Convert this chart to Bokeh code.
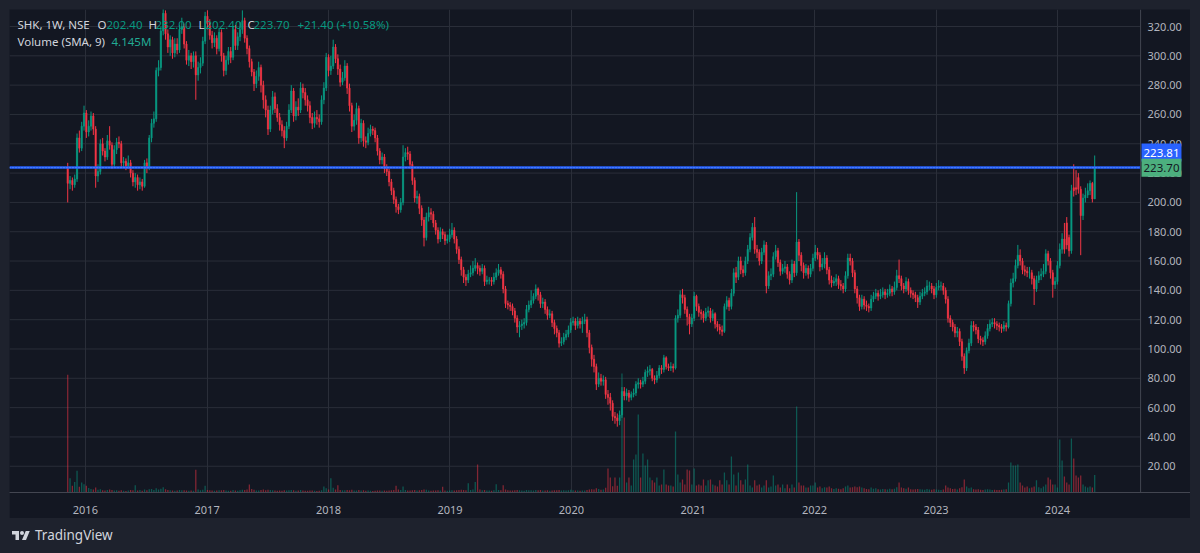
import pandas as pd
from datetime import datetime
from bokeh.plotting import figure
from bokeh.models import (Range1d, FixedTicker, DatetimeTickFormatter, Span, Label,
                          ColumnDataSource, Div, Spacer)
from bokeh.layouts import column, row
from bokeh.embed import file_html
from bokeh.resources import INLINE

# ---------------- data (weekly candles) ----------------
symbol = "SHK, 1W, NSE"
first_week = "2015-11-09"

opens = [
    224, 213, 215, 212, 216, 244, 237, 252, 261, 248,
    252, 259, 250, 218, 221, 240, 235, 231, 242, 239,
    226, 236, 241, 240, 227, 228, 225, 227, 220, 214,
    217, 212, 214, 211, 227, 224, 244, 254, 257, 290,
    292, 317, 329, 315, 306, 311, 302, 308, 304, 318,
    320, 308, 297, 300, 296, 300, 287, 292, 295, 310,
    327, 322, 314, 309, 312, 305, 316, 300, 290, 297,
    303, 299, 318, 307, 313, 318, 324, 312, 305, 296,
    289, 281, 286, 292, 280, 270, 263, 250, 263, 272,
    264, 258, 253, 249, 244, 252, 263, 276, 259, 265,
    263, 278, 275, 270, 266, 258, 254, 258, 257, 255,
    270, 278, 299, 290, 293, 306, 298, 291, 282, 285,
    293, 278, 266, 252, 256, 264, 244, 254, 242, 241,
    247, 250, 249, 244, 235, 229, 231, 223, 221, 214,
    208, 202, 197, 195, 200, 231, 234, 233, 226, 215,
    203, 204, 196, 188, 176, 190, 193, 192, 186, 181,
    175, 180, 178, 174, 175, 178, 181, 175, 168, 161,
    154, 149, 147, 151, 152, 155, 157, 155, 153, 155,
    146, 147, 147, 146, 149, 152, 154, 151, 141, 131,
    130, 129, 126, 121, 115, 116, 117, 118, 127, 130,
    133, 136, 141, 137, 131, 132, 127, 123, 124, 118,
    114, 111, 104, 105, 108, 110, 113, 118, 119, 116,
    119, 117, 119, 120, 111, 101, 93, 88, 76, 80,
    78, 79, 69, 67, 63, 54, 53, 51, 55, 71,
    68, 70, 67, 69, 70, 76, 77, 76, 78, 84,
    85, 86, 80, 79, 82, 87, 86, 94, 88, 87,
    88, 87, 121, 123, 137, 135, 127, 122, 117, 121,
    136, 129, 125, 124, 121, 125, 126, 121, 124, 117,
    115, 113, 112, 129, 133, 129, 138, 152, 149, 160,
    154, 152, 160, 168, 176, 183, 168, 166, 160, 166,
    171, 143, 150, 151, 163, 167, 159, 153, 155, 156,
    151, 147, 158, 152, 173, 164, 157, 152, 155, 151,
    155, 162, 166, 164, 156, 158, 162, 154, 147, 145,
    146, 148, 144, 143, 141, 150, 162, 160, 152, 141,
    135, 129, 134, 130, 129, 128, 134, 136, 138, 136,
    137, 139, 137, 138, 141, 139, 142, 150, 148, 143,
    141, 146, 140, 138, 137, 135, 132, 136, 138, 139,
    143, 143, 141, 137, 142, 143, 143, 140, 134, 121,
    118, 115, 111, 112, 105, 95, 87, 99, 104, 116,
    115, 113, 107, 106, 105, 109, 114, 117, 118, 117,
    116, 115, 114, 116, 115, 131, 145, 148, 157, 164,
    160, 154, 153, 152, 152, 148, 141, 147, 150, 151,
    153, 165, 160, 152, 144, 146, 157, 168, 175, 186,
    176, 167, 210, 210, 217, 209, 191, 203, 205, 208,
    213, 202.4,
]

highs = [
    227, 218, 217, 219, 247, 249, 255, 266, 263, 256,
    262, 261, 252, 226, 243, 244, 237, 246, 252, 241,
    239, 244, 245, 242, 231, 230, 232, 229, 222, 220,
    219, 217, 216, 229, 230, 246, 257, 262, 292, 297,
    320, 333, 331, 318, 314, 313, 312, 312, 321, 326,
    322, 310, 304, 302, 303, 303, 296, 299, 313, 330,
    331, 325, 317, 316, 314, 319, 318, 302, 300, 306,
    306, 320, 321, 316, 323, 331, 326, 314, 307, 298,
    291, 290, 296, 294, 283, 273, 266, 266, 276, 275,
    267, 261, 256, 252, 255, 267, 280, 278, 269, 271,
    282, 281, 278, 273, 269, 261, 262, 263, 260, 273,
    282, 302, 301, 300, 311, 308, 301, 294, 289, 297,
    295, 281, 268, 260, 268, 266, 257, 256, 245, 251,
    253, 252, 251, 246, 237, 234, 233, 226, 223, 216,
    210, 204, 199, 203, 239, 237, 238, 235, 228, 217,
    208, 206, 198, 190, 193, 197, 196, 194, 188, 183,
    183, 182, 180, 178, 182, 186, 183, 177, 170, 163,
    156, 151, 154, 157, 160, 162, 159, 157, 158, 157,
    150, 149, 149, 152, 155, 158, 156, 153, 143, 133,
    132, 131, 128, 123, 119, 120, 121, 130, 133, 140,
    138, 144, 142, 139, 135, 134, 129, 127, 126, 120,
    116, 113, 108, 111, 113, 116, 121, 122, 121, 122,
    121, 122, 124, 122, 113, 103, 96, 90, 84, 83,
    82, 81, 72, 70, 65, 57, 56, 58, 74, 74,
    73, 72, 71, 73, 78, 80, 79, 81, 86, 88,
    89, 87, 82, 85, 89, 89, 96, 95, 90, 91,
    90, 123, 127, 140, 141, 137, 129, 124, 124, 139,
    137, 131, 127, 126, 128, 129, 128, 127, 125, 119,
    117, 116, 131, 136, 135, 141, 155, 156, 163, 163,
    157, 163, 171, 179, 186, 190, 171, 168, 169, 174,
    173, 153, 155, 166, 171, 169, 161, 158, 160, 158,
    153, 161, 160, 207, 175, 166, 159, 158, 157, 158,
    165, 171, 169, 166, 162, 166, 164, 156, 150, 149,
    151, 150, 147, 145, 153, 165, 165, 162, 154, 143,
    137, 137, 136, 133, 131, 137, 139, 141, 140, 141,
    142, 141, 141, 144, 143, 146, 154, 161, 150, 145,
    149, 148, 142, 140, 139, 137, 139, 141, 142, 147,
    146, 145, 143, 145, 147, 146, 145, 142, 136, 123,
    120, 117, 115, 114, 107, 97, 101, 107, 119, 119,
    117, 115, 109, 108, 112, 117, 120, 121, 121, 119,
    118, 117, 119, 118, 133, 148, 152, 161, 171, 168,
    162, 157, 156, 156, 154, 150, 150, 153, 155, 158,
    168, 167, 162, 154, 149, 160, 172, 179, 186, 190,
    178, 212, 226, 222, 220, 211, 206, 210, 213, 215,
    214, 232.0,
]

lows = [
    200, 209, 208, 210, 214, 234, 235, 249, 244, 245,
    249, 246, 210, 214, 219, 232, 228, 229, 236, 223,
    224, 233, 237, 224, 224, 222, 223, 217, 211, 210,
    208, 209, 208, 210, 220, 222, 241, 251, 255, 286,
    290, 314, 311, 302, 300, 298, 299, 301, 302, 315,
    305, 294, 293, 291, 292, 270, 283, 288, 293, 308,
    318, 311, 305, 306, 301, 303, 296, 286, 287, 294,
    295, 297, 304, 304, 310, 315, 309, 301, 292, 286,
    276, 278, 283, 275, 264, 258, 246, 248, 260, 261,
    255, 249, 245, 237, 242, 250, 261, 255, 256, 259,
    261, 271, 266, 262, 254, 250, 251, 253, 251, 253,
    267, 276, 286, 287, 291, 295, 287, 279, 280, 283,
    274, 262, 248, 249, 253, 240, 241, 238, 237, 239,
    245, 246, 241, 232, 226, 226, 220, 218, 211, 205,
    199, 193, 192, 193, 198, 228, 229, 223, 212, 200,
    199, 192, 184, 170, 174, 187, 188, 183, 178, 172,
    173, 175, 171, 172, 173, 176, 172, 165, 158, 150,
    145, 143, 145, 149, 150, 153, 151, 150, 151, 143,
    144, 144, 143, 144, 147, 150, 148, 138, 128, 127,
    126, 123, 118, 111, 108, 113, 114, 116, 125, 128,
    131, 134, 133, 128, 128, 124, 120, 121, 115, 110,
    108, 101, 102, 103, 106, 108, 111, 116, 113, 114,
    114, 111, 117, 108, 97, 88, 84, 72, 74, 75,
    75, 66, 62, 58, 51, 49, 47, 48, 53, 65,
    65, 64, 65, 67, 68, 73, 73, 74, 76, 81,
    82, 78, 76, 77, 80, 83, 84, 86, 85, 85,
    84, 86, 118, 121, 131, 124, 116, 110, 115, 119,
    126, 122, 120, 118, 119, 122, 118, 119, 114, 112,
    110, 109, 111, 127, 126, 127, 136, 145, 147, 151,
    149, 150, 158, 166, 174, 165, 162, 157, 158, 164,
    138, 141, 147, 149, 161, 156, 150, 151, 152, 148,
    144, 145, 149, 150, 160, 153, 148, 150, 148, 149,
    153, 160, 161, 153, 154, 155, 151, 144, 142, 143,
    143, 141, 140, 138, 139, 148, 157, 149, 138, 131,
    126, 127, 127, 126, 125, 126, 132, 134, 133, 134,
    135, 134, 135, 136, 136, 137, 140, 145, 140, 138,
    139, 137, 135, 134, 132, 128, 130, 134, 136, 137,
    140, 138, 134, 135, 140, 140, 137, 131, 118, 115,
    112, 108, 108, 102, 92, 83, 85, 97, 102, 112,
    110, 104, 103, 102, 103, 107, 112, 115, 114, 113,
    112, 111, 112, 112, 114, 129, 142, 146, 155, 157,
    151, 150, 149, 148, 144, 130, 139, 145, 147, 149,
    151, 157, 148, 135, 141, 144, 155, 165, 165, 168,
    163, 165, 204, 205, 206, 164, 188, 200, 203, 205,
    200, 202.4,
]

closes = [
    213, 215, 212, 216, 244, 237, 252, 261, 248, 252,
    259, 250, 218, 221, 240, 235, 231, 242, 239, 226,
    236, 241, 240, 227, 228, 225, 227, 220, 214, 217,
    212, 214, 211, 227, 224, 244, 254, 257, 290, 292,
    317, 329, 315, 306, 311, 302, 308, 304, 318, 320,
    308, 297, 300, 296, 300, 287, 292, 295, 310, 327,
    322, 314, 309, 312, 305, 316, 300, 290, 297, 303,
    299, 318, 307, 313, 318, 324, 312, 305, 296, 289,
    281, 286, 292, 280, 270, 263, 250, 263, 272, 264,
    258, 253, 249, 244, 252, 263, 276, 259, 265, 263,
    278, 275, 270, 266, 258, 254, 258, 257, 255, 270,
    278, 299, 290, 293, 306, 298, 291, 282, 285, 293,
    278, 266, 252, 256, 264, 244, 254, 242, 241, 247,
    250, 249, 244, 235, 229, 231, 223, 221, 214, 208,
    202, 197, 195, 200, 231, 234, 233, 226, 215, 203,
    204, 196, 188, 176, 190, 193, 192, 186, 181, 175,
    180, 178, 174, 175, 178, 181, 175, 168, 161, 154,
    149, 147, 151, 152, 155, 157, 155, 153, 155, 146,
    147, 147, 146, 149, 152, 154, 151, 141, 131, 130,
    129, 126, 121, 115, 116, 117, 118, 127, 130, 133,
    136, 141, 137, 131, 132, 127, 123, 124, 118, 114,
    111, 104, 105, 108, 110, 113, 118, 119, 116, 119,
    117, 119, 120, 111, 101, 93, 88, 76, 80, 78,
    79, 69, 67, 63, 54, 53, 51, 55, 71, 68,
    70, 67, 69, 70, 76, 77, 76, 78, 84, 85,
    86, 80, 79, 82, 87, 86, 94, 88, 87, 88,
    87, 121, 123, 137, 135, 127, 122, 117, 121, 136,
    129, 125, 124, 121, 125, 126, 121, 124, 117, 115,
    113, 112, 129, 133, 129, 138, 152, 149, 160, 154,
    152, 160, 168, 176, 183, 168, 166, 160, 166, 171,
    143, 150, 151, 163, 167, 159, 153, 155, 156, 151,
    147, 158, 152, 173, 164, 157, 152, 155, 151, 155,
    162, 166, 164, 156, 158, 162, 154, 147, 145, 146,
    148, 144, 143, 141, 150, 162, 160, 152, 141, 135,
    129, 134, 130, 129, 128, 134, 136, 138, 136, 137,
    139, 137, 138, 141, 139, 142, 150, 148, 143, 141,
    146, 140, 138, 137, 135, 132, 136, 138, 139, 143,
    143, 141, 137, 142, 143, 143, 140, 134, 121, 118,
    115, 111, 112, 105, 95, 87, 99, 104, 116, 115,
    113, 107, 106, 105, 109, 114, 117, 118, 117, 116,
    115, 114, 116, 115, 131, 145, 148, 157, 164, 160,
    154, 153, 152, 152, 148, 141, 147, 150, 151, 153,
    165, 160, 152, 144, 146, 157, 168, 175, 168, 171,
    167, 208, 208, 209, 209, 191, 203, 205, 208, 213,
    202.3, 223.7,
]

volumes_m = [
    45.6, 5.5, 2.6, 4.1, 8.4, 2.2, 3.9, 3.2, 2.6, 1.7,
    1.4, 1.2, 1.9, 1.1, 1.3, 0.9, 0.8, 1.0, 1.2, 1.0,
    0.8, 0.9, 0.7, 0.9, 0.7, 0.6, 0.8, 1.0, 0.9, 2.8,
    0.8, 1.0, 0.7, 1.2, 0.9, 1.3, 1.4, 1.0, 1.6, 1.2,
    1.5, 2.0, 1.3, 1.0, 0.9, 0.8, 0.7, 0.8, 1.0, 0.9,
    0.9, 0.8, 0.7, 0.8, 0.7, 8.8, 1.2, 0.9, 1.1, 2.6,
    1.0, 0.9, 0.8, 0.7, 0.8, 0.9, 0.9, 1.0, 0.8, 0.7,
    0.7, 1.0, 0.8, 0.7, 0.9, 1.1, 1.0, 1.2, 3.1, 1.4,
    1.1, 0.8, 0.8, 1.0, 1.2, 0.9, 1.1, 1.0, 0.9, 0.8,
    0.7, 0.8, 0.7, 0.9, 0.8, 0.9, 1.0, 0.9, 0.7, 0.8,
    1.0, 0.8, 0.7, 0.7, 0.8, 0.8, 0.7, 0.6, 0.7, 0.9,
    2.3, 1.6, 1.2, 5.5, 1.8, 1.2, 2.8, 1.0, 0.9, 0.9,
    1.0, 0.9, 1.1, 0.8, 0.8, 1.0, 0.8, 0.9, 0.7, 0.8,
    0.7, 0.6, 0.7, 0.8, 0.8, 0.7, 0.8, 0.7, 0.8, 0.9,
    1.0, 2.6, 1.2, 1.0, 2.3, 1.0, 0.8, 0.8, 0.9, 1.0,
    0.8, 0.9, 1.0, 1.2, 1.1, 0.8, 0.7, 0.8, 0.8, 0.9,
    0.8, 2.2, 0.8, 0.7, 0.8, 0.9, 0.8, 0.9, 1.0, 1.1,
    1.0, 0.9, 3.6, 1.0, 1.2, 4.1, 10.9, 1.2, 0.9, 1.0,
    0.8, 0.8, 0.7, 0.9, 3.2, 1.0, 0.9, 2.8, 1.2, 0.9,
    0.8, 0.8, 0.9, 1.0, 0.9, 0.8, 0.7, 1.0, 0.9, 0.9,
    0.8, 1.0, 0.9, 1.0, 0.8, 0.8, 0.9, 0.7, 0.8, 0.9,
    0.9, 1.0, 0.8, 0.9, 0.8, 0.9, 1.1, 0.9, 0.8, 0.8,
    0.7, 0.8, 0.8, 1.0, 1.2, 1.3, 1.2, 1.6, 1.4, 1.1,
    1.2, 1.8, 9.3, 5.8, 2.4, 5.8, 2.6, 5.8, 46.1, 29.1,
    3.9, 5.8, 2.7, 12.8, 14.7, 30.2, 5.8, 15.1, 10.5, 12.8,
    5.8, 4.7, 3.9, 5.8, 2.7, 3.1, 8.9, 3.1, 2.7, 2.7,
    2.3, 23.6, 7.0, 3.9, 5.0, 3.1, 8.9, 8.5, 3.1, 9.3,
    2.7, 3.1, 2.7, 5.0, 2.7, 4.7, 5.0, 3.1, 2.7, 2.3,
    4.7, 3.1, 7.8, 4.7, 3.1, 14.0, 7.0, 2.7, 7.8, 4.7,
    3.1, 5.0, 10.9, 2.7, 1.9, 4.7, 2.7, 3.1, 1.9, 2.7,
    4.7, 1.9, 2.3, 6.6, 2.7, 3.1, 1.9, 3.1, 1.6, 3.1,
    1.6, 3.1, 1.9, 33.3, 3.9, 2.7, 2.7, 1.9, 1.9, 2.7,
    2.7, 3.9, 1.9, 2.3, 1.6, 2.0, 1.9, 2.3, 1.6, 1.4,
    1.6, 1.5, 1.3, 1.6, 2.3, 2.7, 1.9, 2.0, 2.3, 2.0,
    2.3, 1.9, 1.6, 1.4, 1.3, 1.9, 1.5, 1.6, 1.3, 1.2,
    1.4, 1.3, 1.2, 1.5, 1.3, 1.5, 2.0, 3.9, 1.9, 1.6,
    1.5, 1.9, 1.3, 1.2, 1.3, 1.4, 1.3, 1.2, 1.1, 1.4,
    1.2, 1.1, 1.3, 1.2, 1.1, 1.0, 1.2, 2.7, 1.9, 1.6,
    1.4, 1.5, 1.2, 1.6, 2.0, 5.0, 2.3, 1.6, 1.9, 1.3,
    1.2, 1.3, 1.1, 1.0, 1.2, 1.3, 1.2, 1.0, 1.1, 1.0,
    1.0, 1.1, 1.2, 1.3, 3.9, 11.6, 10.5, 10.5, 10.9, 3.9,
    2.7, 1.9, 2.3, 1.6, 1.9, 2.3, 4.7, 2.0, 1.6, 2.3,
    3.1, 5.8, 5.0, 3.1, 3.1, 1.9, 20.5, 12.4, 6.2, 3.9,
    3.1, 20.9, 13.2, 6.6, 5.8, 6.6, 3.1, 2.3, 1.9, 2.3,
    1.9, 6.805,
]

year_labels = ["2016", "2017", "2018", "2019", "2020", "2021", "2022", "2023", "2024"]
price_ticks = [20, 40, 60, 80, 100, 120, 140, 160, 180, 200, 220, 240, 260, 280, 300, 320]
drawn_line_price = 223.81
vol_sma_len = 9

# ---------------- styling ----------------
UP = "#089981"
DOWN = "#f23645"
BG = "#131722"
OUTER = "#1e222d"
GRID = "#2a2e39"
SEP = "#434651"
AXIS_TXT = "#b2b5be"
LEGEND_TXT = "#d1d4dc"
FONT = "Noto Sans"

n = len(closes)
dates = pd.date_range(first_week, periods=n, freq="7D")
cols = [UP if c >= o else DOWN for o, c in zip(opens, closes)]
src = ColumnDataSource(dict(
    x=dates, o=opens, h=highs, l=lows, c=closes, v=volumes_m,
    body_top=[max(o, c) for o, c in zip(opens, closes)],
    body_bot=[min(o, c) for o, c in zip(opens, closes)],
    col=cols,
))

# visible time window; the last 50 px of the frame hold the price scale
x_start = datetime(2015, 5, 18)
x_sep = datetime(2024, 9, 7)       # right edge of the candle pane
x_end = datetime(2025, 2, 4)       # right edge of the price-scale column

p = figure(width=1181, height=509, x_axis_type="datetime", y_axis_location=None,
           x_range=Range1d(x_start, x_end), y_range=Range1d(2.1, 331.6),
           output_backend="svg", toolbar_location=None,
           min_border_left=0, min_border_top=0, min_border_right=0, min_border_bottom=26)
p.background_fill_color = BG
p.border_fill_color = BG
p.outline_line_color = None
p.extra_y_ranges = {"vol": Range1d(0, 187.2)}
p.ygrid.visible = False

# horizontal grid lines only across the candle pane
p.segment(x0=[x_start] * len(price_ticks), x1=[x_sep] * len(price_ticks),
          y0=price_ticks, y1=price_ticks, line_color=GRID, line_width=1, level="underlay")

week_ms = 7 * 24 * 3600 * 1000
p.vbar(x="x", top="v", bottom=0, width=week_ms * 0.55, y_range_name="vol", source=src,
       fill_color="col", fill_alpha=0.5, line_color=None)
p.segment(x0="x", y0="l", x1="x", y1="h", source=src, line_color="col", line_width=1)
p.vbar(x="x", top="body_top", bottom="body_bot", width=week_ms * 0.55, source=src,
       fill_color="col", line_color="col", line_width=0.6)

# time axis
year_ticks = [pd.Timestamp(f"{y}-01-01").value / 1e6 for y in year_labels]
p.xgrid.ticker = FixedTicker(ticks=year_ticks)
p.xgrid.grid_line_color = GRID
p.xaxis.ticker = FixedTicker(ticks=year_ticks)
p.xaxis.formatter = DatetimeTickFormatter(years="%Y", months="%Y", days="%Y", hours="%Y")
p.xaxis.major_tick_line_color = None
p.xaxis.minor_tick_line_color = None
p.xaxis.axis_line_color = SEP
p.xaxis.major_label_text_color = AXIS_TXT
p.xaxis.major_label_text_font = FONT
p.xaxis.major_label_text_font_size = "11px"
p.xaxis.major_label_standoff = 7

# separator between candle pane and price scale
p.add_layout(Span(location=pd.Timestamp(x_sep).value / 1e6, dimension="height",
                  line_color=SEP, line_width=1))

# horizontal drawn line + last price line (across the candle pane)
p.line(x=[x_start, x_sep], y=[drawn_line_price, drawn_line_price], line_color="#2962ff", line_width=2.5)
p.line(x=[x_start, x_sep], y=[closes[-1], closes[-1]], line_color="#6aa0ff",
       line_width=1, line_dash="1 2")

# price scale labels
sep_px = 1131
for t in price_ticks:
    p.add_layout(Label(x=sep_px + 7, y=t, x_units="screen", y_units="data", text=f"{t:.2f}",
                       text_color=AXIS_TXT, text_font=FONT, text_font_size="11px",
                       text_baseline="middle", text_align="left"))

# price badges on the scale
p.add_layout(Label(x=sep_px + 1, y=drawn_line_price, x_units="screen", y_units="data", y_offset=15,
                   text=f"{drawn_line_price:.2f}", text_color="#ffffff", text_font=FONT,
                   text_font_size="11.5px", text_baseline="middle", text_align="left",
                   background_fill_color="#2962ff", padding=(2, 5)))
p.add_layout(Label(x=sep_px + 1, y=closes[-1], x_units="screen", y_units="data",
                   text=f"{closes[-1]:.2f}", text_color="#131722", text_font=FONT,
                   text_font_size="11.5px", text_baseline="middle", text_align="left",
                   background_fill_color="#4caf7e", padding=(2, 5)))

# legend header
chg = closes[-1] - closes[-2]
pct = chg / closes[-2] * 100
sma = sum(volumes_m[-vol_sma_len:]) / vol_sma_len
row1_y, row2_y = 468, 451
header = [
    (8, row1_y, symbol, LEGEND_TXT),
    (88, row1_y, "O", LEGEND_TXT), (97, row1_y, f"{opens[-1]:.2f}", UP),
    (139, row1_y, "H", LEGEND_TXT), (146, row1_y, f"{highs[-1]:.2f}", UP),
    (189, row1_y, "L", LEGEND_TXT), (196, row1_y, f"{lows[-1]:.2f}", UP),
    (238, row1_y, "C", LEGEND_TXT), (244, row1_y, f"{closes[-1]:.2f}", UP),
    (288, row1_y, f"{chg:+.2f} ({pct:+.2f}%)", UP),
    (8, row2_y, f"Volume (SMA, {vol_sma_len})", LEGEND_TXT),
    (102, row2_y, f"{sma:.3f}M", "#22ab94"),
]
for hx, hy, txt, colr in header:
    p.add_layout(Label(x=hx, y=hy, x_units="screen", y_units="screen", text=txt,
                       text_color=colr, text_font=FONT, text_font_size="11.5px",
                       text_baseline="middle", text_align="left"))

logo = ('<svg width="22" height="14" viewBox="0 0 36 28" style="margin-right:3px">'
        '<path d="M14 22H7V11H0V4h14v18zM28 22h-8l7.5-18h8L28 22z" fill="#d1d4dc"/>'
        '<circle cx="20" cy="8" r="4" fill="#d1d4dc"/></svg>')
footer = Div(text=('<div style="display:flex;align-items:center;height:35px;padding-left:10px;'
                   f'color:#d1d4dc;font-family:{FONT};font-size:13.5px;">' + logo + 'TradingView</div>'),
             width=1200, height=35, margin=0)

layout = column(
    Spacer(width=1200, height=9, margin=0),
    row(Spacer(width=9, height=509, margin=0), p, Spacer(width=10, height=509, margin=0), spacing=0),
    footer,
    spacing=0,
    styles={"background-color": OUTER},
)

open("out.html", "w").write(file_html(layout, INLINE))
